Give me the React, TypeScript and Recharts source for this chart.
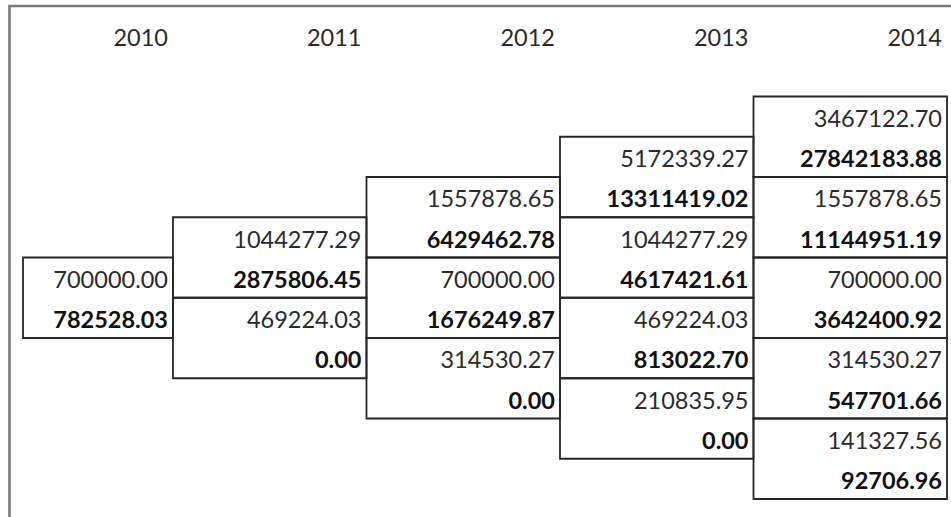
import React from 'react';
import { ScatterChart, Scatter, XAxis, YAxis, ReferenceArea } from 'recharts';

// Column headers (years)
const years = ['2010', '2011', '2012', '2013', '2014'];

// Upper (plain) value of each node, per year, top node first
const plain2010 = [700000.0];
const plain2011 = [1044277.29, 469224.03];
const plain2012 = [1557878.65, 700000.0, 314530.27];
const plain2013 = [5172339.27, 1044277.29, 469224.03, 210835.95];
const plain2014 = [3467122.7, 1557878.65, 700000.0, 314530.27, 141327.56];

// Lower (bold) value of each node, per year, top node first
const bold2010 = [782528.03];
const bold2011 = [2875806.45, 0.0];
const bold2012 = [6429462.78, 1676249.87, 0.0];
const bold2013 = [13311419.02, 4617421.61, 813022.7, 0.0];
const bold2014 = [27842183.88, 11144951.19, 3642400.92, 547701.66, 92706.96];

const plainByYear = [plain2010, plain2011, plain2012, plain2013, plain2014];
const boldByYear = [bold2010, bold2011, bold2012, bold2013, bold2014];

// ---- layout / style constants ----
const W = 951;
const H = 517;
const X_MIN = -0.275;
const X_MAX = 4.5;
const Y_MIN = -2;
const Y_MAX = 10;
const FONT = 'Lato, "Open Sans", Arial, sans-serif';
const FS = 23.5;
const PAD_RIGHT = 5;
const V_SHIFT = 1.8;
const LINE = '#262626';

type Cell = { x: number; y: number; text: string; bold: boolean };

const lastCol = years.length - 1;

const cells: Cell[] = [];
const boxes: { x1: number; x2: number; y1: number; y2: number }[] = [];
plainByYear.forEach((col, i) => {
  col.forEach((v, j) => {
    const topRow = lastCol - i + 2 * j;
    cells.push({ x: i + 0.5, y: topRow + 0.5, text: v.toFixed(2), bold: false });
    cells.push({ x: i + 0.5, y: topRow + 1.5, text: boldByYear[i][j].toFixed(2), bold: true });
    boxes.push({ x1: Math.max(i - 0.5, X_MIN), x2: i + 0.5, y1: topRow, y2: topRow + 2 });
  });
});

const headers: Cell[] = years.map((yr, i) => ({ x: i + 0.5, y: -1.5, text: yr, bold: false }));

const TextShape = (props: any) => {
  const { cx, cy, payload } = props;
  if (cx == null || cy == null) return null;
  return (
    <text
      x={cx - PAD_RIGHT}
      y={cy + V_SHIFT + FS * 0.358}
      textAnchor="end"
      fontFamily={FONT}
      fontSize={FS}
      fontWeight={payload.bold ? 700 : 400}
      fill={payload.bold ? '#111' : '#2a2a2a'}
    >
      {payload.text}
    </text>
  );
};

export default function App() {
  return (
    <div style={{ position: 'absolute', left: 0, top: 0, width: W, height: H, background: '#fff' }}>
      <svg
        width={W}
        height={H}
        style={{ position: 'absolute', left: 0, top: 0, pointerEvents: 'none' }}
      >
        <polyline points={`9.5,${H} 9.5,6 ${W},6`} fill="none" stroke="#7a7a7a" strokeWidth={2.6} />
      </svg>
      <div style={{ position: 'absolute', left: 0, top: 0 }}>
        <ScatterChart width={W} height={H} margin={{ top: 16, right: 4, bottom: 18, left: 23 }}>
          <XAxis type="number" dataKey="x" domain={[X_MIN, X_MAX]} allowDataOverflow hide />
          <YAxis type="number" dataKey="y" domain={[Y_MIN, Y_MAX]} allowDataOverflow reversed hide />
          {boxes.map((b, k) => (
            <ReferenceArea
              key={k}
              x1={b.x1}
              x2={b.x2}
              y1={b.y1}
              y2={b.y2}
              fill="none"
              fillOpacity={0}
              stroke={LINE}
              strokeWidth={1.8}
              ifOverflow="visible"
            />
          ))}
          <Scatter data={headers} shape={TextShape} isAnimationActive={false} />
          <Scatter data={cells} shape={TextShape} isAnimationActive={false} />
        </ScatterChart>
      </div>
    </div>
  );
}
